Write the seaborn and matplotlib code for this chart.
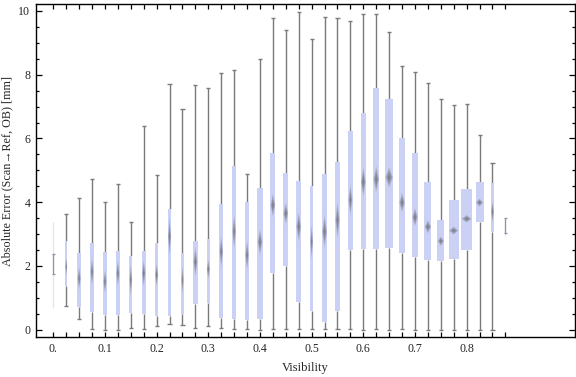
import numpy as np
import seaborn as sns
import matplotlib
matplotlib.use("Agg")
import matplotlib.pyplot as plt

# visibility bins, 0.025 apart (index 0 -> 0.0, index 35 -> 0.875)
visibility = [0.025 * i for i in range(36)]

whisker_hi = [3.39, 3.62, 4.12, 4.73, 4.00, 4.57, 3.37, 6.39, 4.86, 7.70,
              6.93, 7.67, 7.57, 8.05, 8.14, 4.89, 8.48, 9.77, 9.39, 9.96,
              9.11, 9.81, 9.77, 9.68, 9.90, 9.90, 9.33, 8.26, 8.09, 7.74,
              7.24, 7.04, 7.07, 6.10, 5.22, 3.50]
upper_q = [2.38, 2.79, 2.40, 2.71, 2.44, 2.46, 2.31, 2.47, 2.73, 3.79,
           2.42, 2.78, 2.85, 3.94, 5.14, 4.01, 4.46, 5.54, 4.92, 4.67,
           4.52, 4.89, 5.26, 6.22, 6.80, 7.58, 7.24, 6.02, 5.54, 4.63,
           3.44, 4.07, 4.41, 4.63, 4.60, 3.50]
medians = [2.06, 1.98, 1.61, 1.82, 1.51, 1.77, 1.56, 1.77, 1.72, 2.92,
           1.56, 2.13, 1.90, 2.45, 3.08, 2.34, 2.75, 3.91, 3.65, 3.23,
           2.76, 3.08, 3.44, 4.07, 4.64, 4.72, 4.78, 3.99, 3.53, 3.23,
           2.78, 3.11, 3.48, 3.99, 3.70, 3.26]
lower_q = [1.74, 1.37, 0.72, 0.57, 0.45, 0.47, 0.53, 0.49, 0.43, 0.44,
           0.49, 0.81, 0.85, 0.36, 0.33, 0.30, 0.33, 1.79, 2.01, 0.88,
           0.60, 0.25, 0.60, 2.51, 2.54, 2.54, 2.57, 2.42, 2.29, 2.20,
           2.17, 2.23, 2.51, 3.39, 3.06, 3.03]
whisker_lo = [0.69, 0.75, 0.33, 0.01, 0.00, 0.00, 0.04, 0.02, 0.13, 0.17,
              0.14, 0.04, 0.12, 0.04, 0.02, 0.02, 0.00, 0.01, 0.01, 0.01,
              0.02, 0.01, 0.01, 0.01, 0.00, 0.01, 0.00, 0.01, 0.00, 0.00,
              0.00, 0.00, 0.00, 0.00, 0.00, 2.95]
# relative box widths (sample size) in bin units
box_width = [0.08, 0.15, 0.26, 0.26, 0.26, 0.26, 0.23, 0.29, 0.26, 0.26,
             0.18, 0.33, 0.26, 0.29, 0.29, 0.29, 0.39, 0.39, 0.39, 0.39,
             0.23, 0.39, 0.35, 0.33, 0.39, 0.46, 0.62, 0.46, 0.46, 0.54,
             0.54, 0.77, 0.85, 0.62, 0.23, 0.08]
# half height of the median notch
notch = [0.0, 0.31, 0.37, 0.45, 0.37, 0.42, 0.50, 0.42, 0.37, 0.60,
         0.45, 0.47, 0.31, 0.50, 0.55, 0.47, 0.42, 0.37, 0.34, 0.47,
         0.55, 0.52, 0.58, 0.50, 0.48, 0.42, 0.33, 0.31, 0.29, 0.21,
         0.15, 0.13, 0.12, 0.13, 0.37, 0.0]
# bins with almost no samples, drawn faded
faint = [0, 35]

tick_pos = [0, 4, 8, 12, 16, 20, 24, 28, 32]
tick_labels = ["0.", "0.1", "0.2", "0.3", "0.4", "0.5", "0.6", "0.7", "0.8"]

BOX_COLOR = "#cbd1f5"
WHISKER_COLOR = "#7a7a7a"

sns.set_style("ticks")
plt.rcParams["font.family"] = ["Liberation Serif", "DejaVu Serif"]
plt.rcParams["xtick.direction"] = "in"
plt.rcParams["ytick.direction"] = "in"

fig = plt.figure(figsize=(5.76, 3.77), dpi=100)
ax = fig.add_axes([0.0625, 0.106, 0.9365, 0.8826])

pos = np.arange(len(visibility))
cap = 0.16

for i in pos:
    if i in faint:
        ax.vlines(i, whisker_lo[i], whisker_hi[i], color="#e4e4e4", lw=0.9, zorder=1)
        ax.vlines(i, lower_q[i], upper_q[i], color="#8f90b0", lw=0.9, zorder=2)
        ax.hlines([lower_q[i], upper_q[i]], i - cap * 0.7, i + cap * 0.7,
                  color="#8f90b0", lw=0.9, zorder=2)
        continue
    ax.vlines(i, whisker_lo[i], lower_q[i], color=WHISKER_COLOR, lw=1.0, zorder=1)
    ax.vlines(i, upper_q[i], whisker_hi[i], color=WHISKER_COLOR, lw=1.0, zorder=1)
    ax.hlines([whisker_lo[i], whisker_hi[i]], i - cap, i + cap,
              color=WHISKER_COLOR, lw=1.0, zorder=1)
    ax.bar(i, upper_q[i] - lower_q[i], bottom=lower_q[i], width=box_width[i],
           color=BOX_COLOR, edgecolor="none", zorder=2)
    # blurred median diamond
    hw = box_width[i] * 0.48
    for k in range(6):
        s = 1.0 - k / 6.0
        xs = [i - hw * s, i, i + hw * s, i]
        ys = [medians[i], medians[i] + notch[i] * s, medians[i], medians[i] - notch[i] * s]
        ax.fill(xs, ys, color="#555555", alpha=0.17, lw=0, zorder=3)

ax.set_xlim(-1.34, 40.42)
ax.set_ylim(-0.23, 10.21)

ax.set_xticks(tick_pos)
ax.set_xticklabels(tick_labels)
ax.set_xticks(pos, minor=True)
ax.set_yticks([0, 2, 4, 6, 8, 10])
ax.set_yticks(np.arange(0, 10.01, 0.5), minor=True)

ax.tick_params(axis="x", which="both", top=True, length=3.3, width=0.9,
               labelsize=8.6, pad=4, color="black")
ax.tick_params(axis="y", which="major", right=True, length=4, width=0.9,
               labelsize=8.6, pad=4, color="black")
ax.tick_params(axis="y", which="minor", right=True, length=2.3, width=0.9,
               color="black")

for sp in ax.spines.values():
    sp.set_visible(True)
    sp.set_linewidth(1.0)
    sp.set_color("black")

ax.set_xlabel("Visibility", fontsize=9, labelpad=5)
ax.set_ylabel("Absolute Error (Scan\u2192Ref, OB) [mm]", fontsize=8.7)
ax.yaxis.set_label_coords(-0.043, 0.5)

fig.savefig("out.png", dpi=100)
